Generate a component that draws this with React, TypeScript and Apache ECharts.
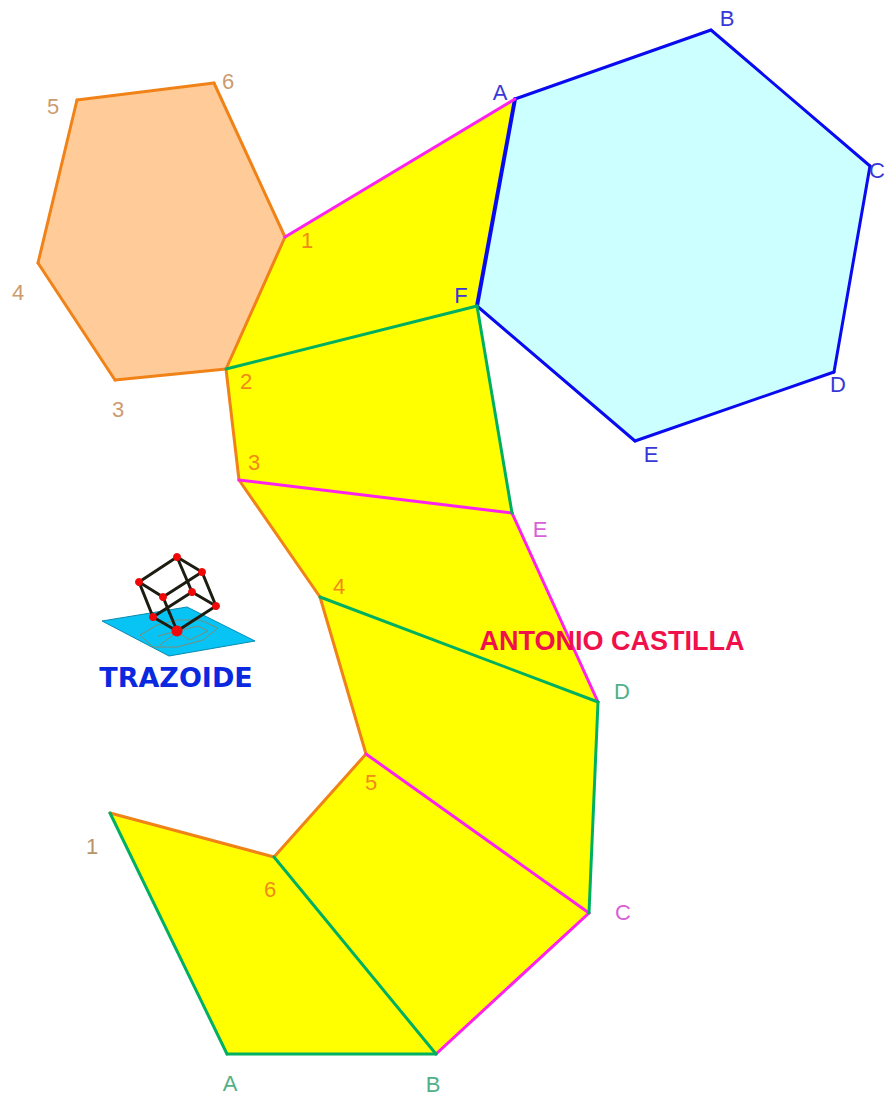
import React, { useEffect, useRef } from "react";
import * as echarts from "echarts";

type P = [number, number];

const A1: P = [515, 99]; const B1: P = [711, 30]; const C1: P = [870, 166];
const D1: P = [834, 372]; const E1: P = [635, 441]; const F1: P = [477, 306];
const n1: P = [285, 237]; const n6: P = [214, 83]; const n5: P = [77, 100];
const n4: P = [38, 263]; const n3: P = [115, 380]; const n2: P = [226, 369];
const y3: P = [239, 480]; const y4: P = [320, 597]; const y5: P = [366, 754]; const y6: P = [274, 857];
const yE: P = [512, 513]; const yD: P = [598, 702]; const yC: P = [589, 913];
const yB: P = [436, 1054]; const yA: P = [227, 1054]; const y1: P = [110, 813];

const hexagon = [A1, B1, C1, D1, E1, F1];
const orangeHex = [n1, n6, n5, n4, n3, n2];
const yellowStrip = [n1, A1, F1, yE, yD, yC, yB, yA, y1, y6, y5, y4, y3, n2];
const plane: P[] = [[102, 621], [187, 607], [255, 641], [169, 656]];
const planeOutline: P[] = [[140, 635], [157, 625], [177, 620], [200, 620], [218, 628], [203, 640], [177, 647], [153, 647]];
const planeInner: P[] = [[158, 636], [177, 631], [198, 626], [208, 631], [190, 640], [177, 632], [160, 645]];

const magentaEdges: P[][] = [[n1, A1], [y3, yE], [yE, yD], [y5, yC], [yC, yB]];
const greenEdges: P[][] = [[n2, F1], [F1, yE], [y4, yD], [yD, yC], [y6, yB], [yB, yA], [yA, y1]];
const orangeEdges: P[][] = [[n1, n6], [n6, n5], [n5, n4], [n4, n3], [n3, n2], [n2, n1], [n2, y3], [y3, y4], [y4, y5], [y5, y6], [y6, y1]];
const blueEdges: P[][] = [[A1, B1], [B1, C1], [C1, D1], [D1, E1], [E1, F1]];
const blueShared: P[][] = [[F1, A1]];

const cubeTop: P = [177, 557]; const cubeRT: P = [202, 572]; const cubeL: P = [139, 582];
const cubeCL: P = [163, 597]; const cubeM: P = [192, 592]; const cubeR: P = [216, 606];
const cubeBL: P = [153, 617]; const cubeB: P = [177, 631];
const cubeEdges: P[][] = [
  [cubeTop, cubeRT], [cubeTop, cubeL], [cubeL, cubeCL], [cubeCL, cubeRT], [cubeTop, cubeM], [cubeM, cubeR],
  [cubeRT, cubeR], [cubeL, cubeBL], [cubeBL, cubeM], [cubeCL, cubeB], [cubeBL, cubeB], [cubeR, cubeB],
];
const cubeVertices = [cubeTop, cubeRT, cubeL, cubeCL, cubeM, cubeR, cubeBL];

const labels: { t: string; p: P; c: string }[] = [
  { t: "A", p: [500, 92], c: "#3838d8" }, { t: "B", p: [727, 18], c: "#3838d8" },
  { t: "C", p: [877, 170], c: "#3838d8" }, { t: "D", p: [838, 384], c: "#3838d8" },
  { t: "E", p: [651, 454], c: "#3838d8" }, { t: "F", p: [461, 295], c: "#3838d8" },
  { t: "1", p: [307, 240], c: "#f08a18" }, { t: "2", p: [246, 381], c: "#f08a18" },
  { t: "3", p: [254, 462], c: "#f08a18" }, { t: "4", p: [339, 586], c: "#f08a18" },
  { t: "5", p: [371, 782], c: "#f08a18" }, { t: "6", p: [270, 889], c: "#f08a18" },
  { t: "6", p: [228, 81], c: "#cc9c70" }, { t: "5", p: [53, 106], c: "#cc9c70" },
  { t: "4", p: [18, 292], c: "#cc9c70" }, { t: "3", p: [118, 409], c: "#cc9c70" },
  { t: "1", p: [92, 846], c: "#b89468" },
  { t: "E", p: [540, 529], c: "#d860d8" }, { t: "C", p: [623, 912], c: "#d860d8" },
  { t: "D", p: [622, 691], c: "#50b088" }, { t: "A", p: [230, 1083], c: "#50b088" },
  { t: "B", p: [433, 1084], c: "#50b088" },
];

const edgeSeries = (edges: P[][], color: string, width: number) =>
  edges.map((data) => ({
    type: "line", data, symbol: "none", silent: true, z: 4,
    lineStyle: { color, width, cap: "round" },
  }));

const polygonSeries = (pts: P[], fill: string, z: number, stroke?: string) => ({
  type: "custom", silent: true, z, coordinateSystem: "cartesian2d", data: [0], clip: false,
  renderItem: (_: any, api: any) => ({
    type: "polygon",
    shape: { points: pts.map((p) => api.coord(p)) },
    style: { fill, stroke: stroke ?? "none", lineWidth: 1 },
  }),
});

export default function App() {
  const ref = useRef<HTMLDivElement>(null);
  useEffect(() => {
    const chart = echarts.init(ref.current!, undefined, { renderer: "svg" });
    chart.setOption({
      animation: false,
      backgroundColor: "#ffffff",
      grid: { left: 0, right: 0, top: 0, bottom: 0 },
      xAxis: { type: "value", min: 0, max: 885, show: false },
      yAxis: { type: "value", min: 0, max: 1097, inverse: true, show: false },
      series: [
        polygonSeries(hexagon, "#ccffff", 1),
        polygonSeries(orangeHex, "#ffcc99", 1),
        polygonSeries(yellowStrip, "#ffff00", 2),
        polygonSeries(plane, "#08c4f4", 2, "#0a8ab0"),
        polygonSeries(planeOutline, "none", 3, "#7c8c78"),
        ...edgeSeries([planeInner], "#7c8c78", 1),
        ...edgeSeries(orangeEdges, "#f08218", 3),
        ...edgeSeries(blueEdges, "#0a0af0", 3),
        ...edgeSeries(blueShared, "#0a0af0", 4),
        ...edgeSeries(magentaEdges, "#ff22ee", 3),
        ...edgeSeries(greenEdges, "#00b060", 3),
        ...edgeSeries(cubeEdges, "#1c1c10", 3),
        {
          type: "scatter", silent: true, z: 6, symbol: "circle", symbolSize: 8,
          itemStyle: { color: "#f00808", opacity: 1 }, data: cubeVertices,
        },
        {
          type: "scatter", silent: true, z: 6, symbol: "circle", symbolSize: 11,
          itemStyle: { color: "#f00808", opacity: 1 }, data: [cubeB],
        },
        {
          type: "scatter", silent: true, z: 7, symbolSize: 0, itemStyle: { opacity: 1 },
          data: labels.map((l) => ({
            value: l.p,
            label: {
              show: true, position: "inside", formatter: l.t, color: l.c, opacity: 1,
              fontFamily: "Liberation Sans", fontSize: 22,
            },
          })),
        },
        {
          type: "scatter", silent: true, z: 7, symbolSize: 0, itemStyle: { opacity: 1 },
          data: [
            {
              value: [612, 641],
              label: { show: true, position: "inside", formatter: "ANTONIO CASTILLA", color: "#f0104c", opacity: 1, fontFamily: "Liberation Sans", fontWeight: "bold", fontSize: 27 },
            },
            {
              value: [176, 677],
              label: { show: true, position: "inside", formatter: "TRAZOIDE", color: "#0a28e0", opacity: 1, fontFamily: "DejaVu Sans", fontWeight: "bold", fontSize: 27 },
            },
          ],
        },
      ],
    });
    return () => chart.dispose();
  }, []);
  return <div ref={ref} style={{ position: "absolute", left: 0, top: 0, width: 885, height: 1097 }} />;
}
